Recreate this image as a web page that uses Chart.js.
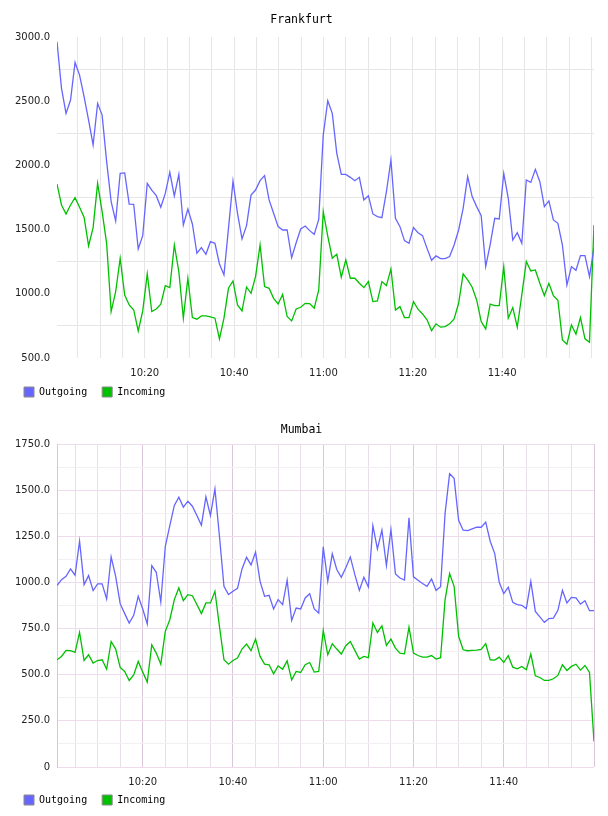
<!DOCTYPE html>
<html>
<head>
<meta charset="utf-8">
<script src="https://cdn.jsdelivr.net/npm/chart.js@4.4.1/dist/chart.umd.min.js"></script>
<style>
    html, body { margin: 0; padding: 0; background: #fff; }
    canvas { display: block; }
</style>
</head>
<body>
<canvas id="fraChart" width="608" height="408"></canvas>
<canvas id="mumChart" width="608" height="408"></canvas>
<script>
// Traffic samples, roughly one per minute
const fraStart = '10:00:22';
const fraStepSec = 60.6;
const fraOutgoing = [
    2963, 2600, 2405, 2509, 2802, 2703, 2535, 2353, 2159, 2483, 2392, 2029, 1718, 1567, 1938, 1941, 1699, 1697, 1349, 1453,
    1860, 1808, 1764, 1674, 1782, 1946, 1762, 1930, 1536, 1660, 1544, 1316, 1360, 1308, 1406, 1393, 1232, 1147, 1510, 1878,
    1627, 1427, 1531, 1769, 1808, 1881, 1920, 1731, 1627, 1523, 1497, 1497, 1282, 1398, 1505, 1528, 1492, 1463, 1580, 2236,
    2504, 2405, 2094, 1930, 1930, 1907, 1881, 1907, 1731, 1764, 1622, 1601, 1593, 1795, 2042, 1588, 1523, 1414, 1393, 1515,
    1476, 1453, 1354, 1261, 1295, 1274, 1274, 1290, 1380, 1497, 1666, 1912, 1757, 1679, 1609, 1212, 1385, 1588, 1583, 1938,
    1744, 1419, 1476, 1393, 1886, 1868, 1969, 1873, 1679, 1723, 1575, 1549, 1380, 1069, 1212, 1183, 1297, 1297, 1134, 1360
];
const fraIncoming = [
    1855, 1692, 1622, 1692, 1749, 1674, 1596, 1373, 1515, 1860, 1640, 1393, 862, 1017, 1277, 991, 913, 874, 711, 867,
    1155, 862, 882, 919, 1064, 1048, 1380, 1173, 810, 1121, 815, 802, 828, 828, 820, 810, 649, 810, 1043, 1100,
    913, 867, 1053, 1004, 1134, 1380, 1056, 1043, 965, 921, 996, 823, 789, 882, 895, 926, 924, 888, 1030, 1640,
    1450, 1277, 1308, 1129, 1264, 1121, 1121, 1082, 1048, 1095, 939, 944, 1095, 1064, 1194, 874, 900, 815, 815, 939,
    880, 843, 797, 714, 766, 740, 745, 766, 805, 926, 1155, 1108, 1051, 952, 784, 727, 919, 908, 908, 1212,
    810, 893, 740, 991, 1251, 1178, 1186, 1082, 986, 1082, 986, 950, 641, 607, 758, 685, 815, 649, 623, 1536
];

const mumStart = '10:01:00';
const mumStepSec = 60;
const mumOutgoing = [
    983, 1015, 1033, 1073, 1039, 1223, 988, 1037, 956, 992, 992, 910, 1138, 1033, 885, 831, 780, 822, 925, 856,
    775, 1091, 1055, 894, 1196, 1308, 1417, 1462, 1408, 1440, 1413, 1363, 1310, 1464, 1363, 1507, 1250, 979, 934, 952,
    968, 1073, 1136, 1095, 1164, 1006, 925, 930, 856, 907, 880, 1012, 794, 861, 856, 916, 939, 856, 834, 1193,
    1006, 1155, 1070, 1028, 1079, 1138, 1042, 957, 1028, 975, 1308, 1182, 1283, 1091, 1287, 1046, 1024, 1013, 1350, 1030,
    1012, 994, 979, 1019, 957, 977, 1374, 1589, 1564, 1337, 1283, 1281, 1290, 1299, 1299, 1327, 1223, 1156, 1001, 939,
    974, 892, 880, 876, 858, 1006, 843, 813, 784, 804, 807, 849, 957, 889, 919, 916, 883, 901, 847, 847
];
const mumIncoming = [
    581, 599, 632, 630, 621, 729, 577, 608, 563, 577, 581, 530, 680, 639, 539, 518, 469, 499, 572, 514,
    460, 662, 617, 557, 735, 798, 907, 970, 901, 934, 928, 880, 831, 889, 889, 952, 762, 581, 557, 577,
    590, 639, 666, 630, 693, 599, 557, 554, 505, 548, 530, 575, 472, 518, 512, 554, 566, 514, 518, 740,
    608, 668, 639, 612, 657, 680, 632, 585, 599, 592, 780, 729, 765, 659, 693, 644, 617, 613, 758, 617,
    604, 595, 595, 604, 585, 592, 907, 1048, 979, 708, 635, 630, 632, 633, 637, 668, 581, 579, 595, 566,
    603, 541, 532, 545, 527, 612, 494, 485, 469, 469, 478, 496, 554, 523, 545, 557, 525, 550, 512, 138
];

const xLabelTimes = ['10:20', '10:40', '11:00', '11:20', '11:40'];
const seriesNames = ['Outgoing', 'Incoming'];

const BLUE = '#6666ff';
const GREEN = '#00c000';
const TICK_FONT = { family: 'DejaVu Sans', size: 10 };
const MONO = 'DejaVu Sans Mono';

function toMinutes(hms) {
    const [h, m, s] = hms.split(':').map(Number);
    return h * 60 + m + (s || 0) / 60;
}

function fmtTime(min) {
    const h = Math.floor(min / 60);
    const m = Math.round(min - h * 60);
    return String(h).padStart(2, '0') + ':' + String(m).padStart(2, '0');
}

function sampleTimes(start, stepSec, count) {
    const t0 = toMinutes(start);
    return Array.from({ length: count }, (_, i) => t0 + i * stepSec / 60);
}

// The legend sits tight under the time labels; the x scale clips its labels
// to its own box, so give that box some room once the layout is done.
const labelRoom = {
    id: 'labelRoom',
    afterLayout(chart) {
        const x = chart.scales.x;
        x.bottom += 10;
        x.height += 10;
    }
};

function buildChart(id, cfg) {
    const times = sampleTimes(cfg.start, cfg.stepSec, cfg.outgoing.length);
    const xMin = times[0];
    const xMax = times[times.length - 1];
    const xGrid = [];
    for (let t = Math.ceil(xMin / 5) * 5; t <= xMax + 1e-6; t += 5) xGrid.push(t);

    return new Chart(document.getElementById(id), {
        type: 'line',
        plugins: [labelRoom],
        data: {
            labels: times,
            datasets: [
                { label: seriesNames[0], data: cfg.outgoing, borderColor: BLUE, backgroundColor: BLUE },
                { label: seriesNames[1], data: cfg.incoming, borderColor: GREEN, backgroundColor: GREEN }
            ]
        },
        options: {
            responsive: false,
            animation: false,
            events: [],
            layout: { padding: { left: 9, right: 14, top: 0, bottom: 1 } },
            elements: {
                point: { radius: 0 },
                line: { borderWidth: 1.3, tension: 0 }
            },
            scales: {
                x: {
                    type: 'linear',
                    min: xMin,
                    max: xMax,
                    afterBuildTicks: s => { s.ticks = xGrid.map(v => ({ value: v })); },
                    afterFit: s => { s.height = cfg.xAxisHeight; },
                    border: { display: false },
                    grid: { drawTicks: false, color: cfg.xGridColor, lineWidth: 1 },
                    ticks: {
                        autoSkip: false,
                        maxRotation: 0,
                        padding: 9,
                        font: TICK_FONT,
                        color: '#222',
                        callback: v => {
                            const t = fmtTime(v);
                            return xLabelTimes.includes(t) ? t : '';
                        }
                    }
                },
                y: {
                    min: cfg.yMin,
                    max: cfg.yMax,
                    afterFit: s => { s.width = 48; },
                    border: cfg.yBorder,
                    grid: { drawTicks: false, color: cfg.yGridColor, lineWidth: 1 },
                    ticks: {
                        stepSize: cfg.yStep,
                        padding: 7,
                        font: TICK_FONT,
                        color: '#222',
                        callback: v => (v % cfg.yLabelEvery === 0 ? (v === 0 ? '0' : v.toFixed(1)) : '')
                    }
                }
            },
            plugins: {
                tooltip: { enabled: false },
                title: {
                    display: true,
                    text: cfg.title,
                    color: '#000',
                    font: { family: MONO, size: 11.5, weight: 'normal' },
                    padding: cfg.titlePad
                },
                legend: {
                    position: 'bottom',
                    align: 'start',
                    labels: {
                        boxWidth: 10,
                        boxHeight: 10,
                        padding: 15,
                        color: '#000',
                        font: { family: MONO, size: 10 },
                        generateLabels: chart => chart.data.datasets.map((ds, i) => ({
                            text: ds.label,
                            fillStyle: ds.borderColor,
                            strokeStyle: '#8a8a8a',
                            lineWidth: 1,
                            hidden: false,
                            datasetIndex: i
                        }))
                    }
                }
            }
        }
    });
}

buildChart('fraChart', {
    title: 'Frankfurt',
    start: fraStart,
    stepSec: fraStepSec,
    outgoing: fraOutgoing,
    incoming: fraIncoming,
    yMin: 500, yMax: 3000, yStep: 250, yLabelEvery: 500,
    titlePad: { top: 13, bottom: 10.2 },
    xAxisHeight: 14,
    yBorder: { display: false },
    xGridColor: '#e6e6e6',
    yGridColor: ctx => (ctx.tick.value % 500 ? '#e6e6e6' : 'rgba(0,0,0,0)')
});

buildChart('mumChart', {
    title: 'Mumbai',
    start: mumStart,
    stepSec: mumStepSec,
    outgoing: mumOutgoing,
    incoming: mumIncoming,
    yMin: 0, yMax: 1750, yStep: 125, yLabelEvery: 250,
    titlePad: { top: 15, bottom: 7.2 },
    xAxisHeight: 13,
    yBorder: { display: true, color: '#dcc6dc', width: 1 },
    xGridColor: ctx => (ctx.tick.value % 20 === 0 ? '#dcc6dc' : '#e8e0e8'),
    yGridColor: ctx => (ctx.tick.value % 250 === 0 ? '#eedcee' : '#f3eff3')
});
</script>
</body>
</html>
